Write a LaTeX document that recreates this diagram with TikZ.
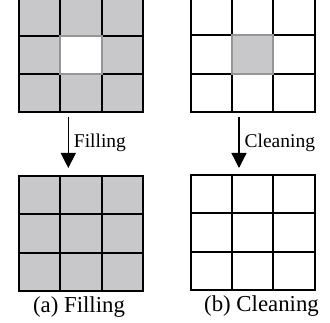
\documentclass[tikz,border=0pt]{standalone}
\usepackage{fontspec}
\setmainfont{Liberation Serif}
\usetikzlibrary{arrows.meta,calc,positioning}
\definecolor{cellgray}{RGB}{200,200,202}
\definecolor{rimgray}{RGB}{150,150,150}
\begin{document}
\begin{tikzpicture}[
        x=1pt, y=-1pt,
        panel/.style={draw=black, line width=2pt, minimum width=124pt, minimum height=115pt, inner sep=0pt, outer sep=0pt},
        gridline/.style={draw=black, line width=2pt},
        cell/.style={draw=rimgray, line width=2pt, minimum width=41.3pt, minimum height=38.3pt, inner sep=0pt},
        flow/.style={line width=1.3pt, -{Triangle[length=15pt,width=15pt]}},
        steplabel/.style={anchor=west, font=\fontsize{19.5}{22}\selectfont, inner sep=0pt},
        caption/.style={font=\fontsize{22.8}{26}\selectfont, inner sep=0pt}
    ]
    \useasboundingbox (0,0) rectangle (330,323);

    \node[panel, fill=cellgray] (fillTop) at (81,55) {};
    \node[panel, fill=white] (cleanTop) at (252.5,54.5) {};
    \node[panel, fill=cellgray] (fillBot) at (81,233.5) {};
    \node[panel, fill=white] (cleanBot) at (252.5,232.5) {};

    \foreach \g in {fillTop,cleanTop,fillBot,cleanBot}
        \foreach \f in {1,2} {
            \draw[gridline] ($(\g.north west)!\f/3!(\g.north east)$) -- ($(\g.south west)!\f/3!(\g.south east)$);
            \draw[gridline] ($(\g.north west)!\f/3!(\g.south west)$) -- ($(\g.north east)!\f/3!(\g.south east)$);
        }

    \node[cell, fill=white] (hole) at (fillTop.center) {};
    \node[cell, fill=cellgray] (dirt) at (cleanTop.center) {};

    \draw[flow] ($(fillTop.south)+(-12.7,4.5)$) -- ($(fillBot.north)+(-12.7,-8)$)
        node[steplabel, midway, xshift=5pt] (fillText) {Filling};
    \draw[flow] ($(cleanTop.south)+(-13.5,5)$) -- ($(cleanBot.north)+(-13.5,-7)$)
        node[steplabel, midway, xshift=5pt] (cleanText) {Cleaning};

    \node[caption, below=5pt of fillBot, xshift=-2pt] (capA) {(a) Filling};
    \node[caption, below=5pt of cleanBot, xshift=9pt] (capB) {(b) Cleaning};
\end{tikzpicture}
\end{document}
